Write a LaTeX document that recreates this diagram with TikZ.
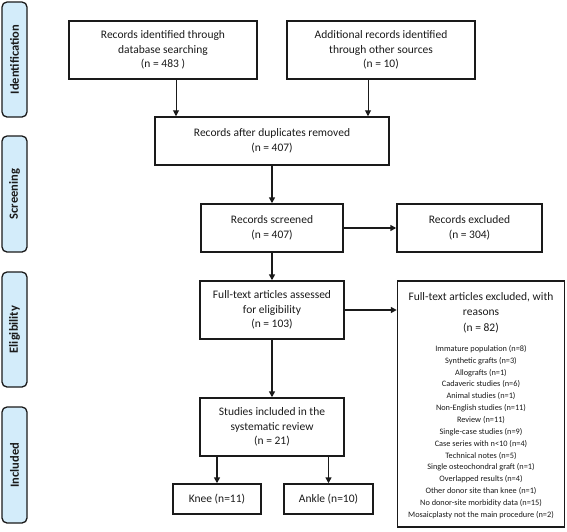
\documentclass[tikz,border=0pt]{standalone}
\usepackage{fontspec}
\setmainfont{Carlito}
\usetikzlibrary{arrows.meta,calc}
\definecolor{sidefill}{HTML}{D3ECFA}
\definecolor{inkc}{HTML}{1A1A1A}
\tikzset{
  box/.style={draw=inkc, line width=1.5pt, rectangle, align=center, inner sep=0pt,
    font=\fontsize{11.5}{14.5}\selectfont, text=inkc},
  side/.style={draw=inkc, fill=sidefill, line width=1.3pt, rounded corners=5pt, inner sep=0pt,
    minimum width=25pt},
  sidelabel/.style={rotate=90, font=\bfseries\fontsize{12.5}{14}\selectfont, text=inkc},
  arr/.style={draw=inkc, line width=1.5pt, -{Triangle[length=6pt,width=6pt]}},
  thinarr/.style={draw=inkc, line width=1pt, -{Triangle[length=6pt,width=6pt]}},
  hdr/.style={align=center, inner sep=0pt, font=\fontsize{11.5}{15.5}\selectfont, text=inkc},
  lst/.style={align=center, inner sep=0pt, font=\fontsize{8.3}{11.86}\selectfont, text=inkc},
}
\begin{document}
\begin{tikzpicture}[x=1pt, y=-1pt]
\useasboundingbox (0,0) rectangle (567,531);
% side bars
\node[side, minimum height=115pt] (sid) at (14.5,59.5) {};
\node[sidelabel] (sidl) at (sid.center) {Identification};
\node[side, minimum height=116pt] (sscr) at (14.5,194) {};
\node[sidelabel] (sscrl) at (sscr.center) {Screening};
\node[side, minimum height=115pt] (seli) at (14.5,329.5) {};
\node[sidelabel] (selil) at (seli.center) {Eligibility};
\node[side, minimum height=116pt] (sinc) at (14.5,465) {};
\node[sidelabel] (sincl) at (sinc.center) {Included};
% boxes
\node[box, minimum width=188pt, minimum height=58pt] (b1) at (163,50)
  {Records identified through\\database searching\\(n = 483 )};
\node[box, minimum width=188pt, minimum height=58pt] (b2) at (381,50)
  {Additional records identified\\through other sources\\(n = 10)};
\node[box, minimum width=234pt, minimum height=48pt] (b3) at (272,141)
  {Records after duplicates removed\\(n = 407)};
\node[box, minimum width=142pt, minimum height=48pt] (b4) at (272,228)
  {Records screened\\(n = 407)};
\node[box, minimum width=145pt, minimum height=48pt] (b5) at (469.5,228)
  {Records excluded\\(n = 304)};
\node[box, minimum width=144pt, minimum height=58pt] (b6) at (272,310)
  {Full-text articles assessed\\for eligibility\\(n = 103)};
\node[box, minimum width=167pt, minimum height=246pt] (b7) at (481,404) {};
\node[hdr] (b7h) at (481,312.5) {Full-text articles excluded, with\\reasons\\(n = 82)};
\node[lst] (b7l) at (481,432) {Immature population (n=8)\\Synthetic grafts (n=3)\\Allografts (n=1)\\Cadaveric studies (n=6)\\Animal studies (n=1)\\Non-English studies (n=11)\\Review (n=11)\\Single-case studies (n=9)\\Case series with n<10 (n=4)\\Technical notes (n=5)\\Single osteochondral graft (n=1)\\Overlapped results (n=4)\\Other donor site than knee (n=1)\\No donor-site morbidity data (n=15)\\Mosaicplasty not the main procedure (n=2)};
\node[box, minimum width=144pt, minimum height=58pt] (b8) at (272,427)
  {Studies included in the\\systematic review\\(n = 21)};
\node[box, minimum width=88pt, minimum height=30pt] (knee) at (217,499) {Knee (n=11)};
\node[box, minimum width=89pt, minimum height=30pt] (ankle) at (328.5,499) {Ankle (n=10)};
% connectors
\draw[thinarr] ([xshift=13pt]b1.south) -- ([xshift=13pt]b1.south |- b3.north);
\draw[thinarr] ([xshift=-13pt]b2.south) -- ([xshift=-13pt]b2.south |- b3.north);
\draw[arr] (b3.south) -- (b4.north);
\draw[arr] (b4.east) -- (b5.west);
\draw[arr] (b4.south) -- (b6.north);
\draw[arr] (b6.east) -- (b7.west |- b6.east);
\draw[arr] (b6.south) -- (b8.north);
\draw[arr] (knee.north |- b8.south) -- (knee.north);
\draw[arr] (ankle.north |- b8.south) -- (ankle.north);
\end{tikzpicture}
\end{document}
